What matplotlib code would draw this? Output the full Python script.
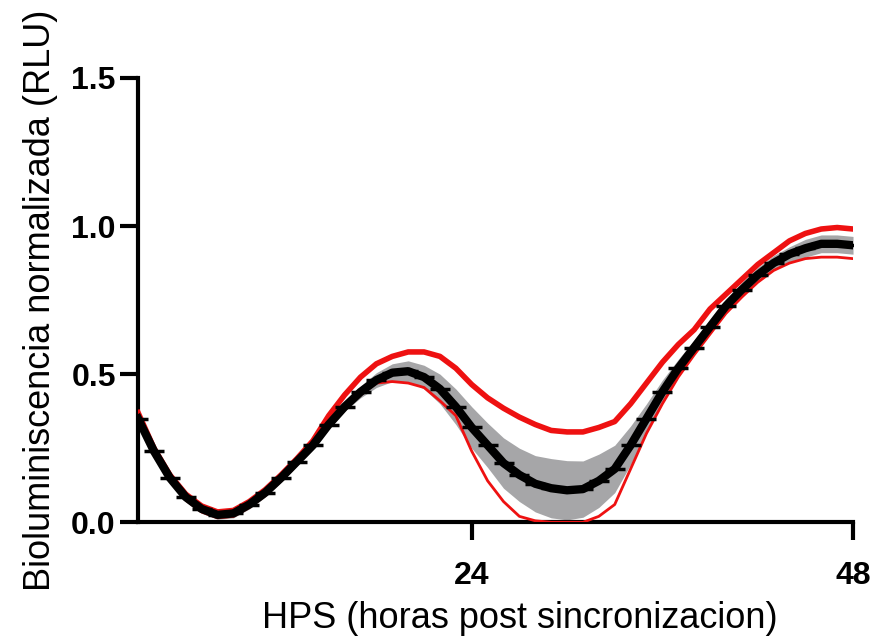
import matplotlib
matplotlib.use('Agg')
import matplotlib.pyplot as plt

# hours post synchronization
hours = [3, 4, 5, 6, 7, 8, 9, 10, 11, 12, 13, 14, 15, 16, 17, 18, 19, 20, 21, 22, 23, 24, 25,
         26, 27, 28, 29, 30, 31, 32, 33, 34, 35, 36, 37, 38, 39, 40, 41, 42, 43, 44, 45, 46, 47, 48]

# black series mean and sd (grey band)
black_mean = [0.35, 0.24, 0.15, 0.085, 0.045, 0.025, 0.03, 0.06, 0.10, 0.15, 0.205, 0.26, 0.33,
              0.39, 0.44, 0.48, 0.505, 0.51, 0.49, 0.45, 0.39, 0.32, 0.26, 0.20, 0.16, 0.13,
              0.115, 0.108, 0.112, 0.14, 0.18, 0.26, 0.35, 0.44, 0.52, 0.59, 0.66, 0.73, 0.785,
              0.835, 0.875, 0.905, 0.925, 0.94, 0.94, 0.935]
black_sd = [0.015, 0.015, 0.015, 0.015, 0.015, 0.015, 0.015, 0.015, 0.015, 0.015, 0.015, 0.015,
            0.015, 0.015, 0.02, 0.025, 0.03, 0.035, 0.04, 0.05, 0.06, 0.07, 0.075, 0.085, 0.09,
            0.095, 0.10, 0.10, 0.095, 0.09, 0.08, 0.065, 0.05, 0.04, 0.03, 0.025, 0.025, 0.025,
            0.025, 0.025, 0.025, 0.025, 0.03, 0.03, 0.03, 0.03]

# red series upper / lower limits
red_upper = [0.37, 0.25, 0.16, 0.095, 0.055, 0.035, 0.04, 0.07, 0.11, 0.16, 0.215, 0.275, 0.36,
             0.43, 0.49, 0.535, 0.56, 0.575, 0.575, 0.56, 0.52, 0.465, 0.42, 0.385, 0.355, 0.33,
             0.31, 0.305, 0.305, 0.32, 0.34, 0.40, 0.47, 0.54, 0.60, 0.65, 0.72, 0.77, 0.82,
             0.87, 0.91, 0.95, 0.975, 0.99, 0.995, 0.99]
red_lower = [0.34, 0.23, 0.14, 0.075, 0.035, 0.015, 0.02, 0.05, 0.09, 0.14, 0.195, 0.25, 0.32,
             0.38, 0.43, 0.47, 0.475, 0.47, 0.455, 0.41, 0.36, 0.24, 0.14, 0.07, 0.02, 0.005,
             0.0, 0.0, 0.0, 0.02, 0.06, 0.18, 0.30, 0.40, 0.49, 0.565, 0.635, 0.705, 0.76,
             0.81, 0.85, 0.875, 0.89, 0.895, 0.895, 0.89]

plt.rcParams['font.family'] = ['Liberation Sans', 'DejaVu Sans']

fig = plt.figure(figsize=(8.74, 6.44), dpi=100)
ax = fig.add_axes([0.158, 0.189, 0.818, 0.690])

lo = [m - s for m, s in zip(black_mean, black_sd)]
hi = [m + s for m, s in zip(black_mean, black_sd)]
ax.fill_between(hours, lo, hi, color='#a6a6a8', lw=0, zorder=2)
ax.plot(hours, red_upper, color='#ee1111', lw=4, zorder=3)
ax.plot(hours, red_lower, color='#ee1111', lw=2, zorder=3)
ax.plot(hours, black_mean, color='black', lw=6, zorder=4,
        marker='_', markersize=14, markeredgewidth=2.5)

ax.set_xlim(3, 48)
ax.set_ylim(0, 1.5)
ax.set_xticks([24, 48])
ax.set_xticklabels(['24', '48'], fontsize=23, fontweight='bold')
ax.set_yticks([0.0, 0.5, 1.0, 1.5])
ax.set_yticklabels(['0.0', '0.5', '1.0', '1.5'], fontsize=23, fontweight='bold')

for s in ['top', 'right']:
    ax.spines[s].set_visible(False)
for s in ['left', 'bottom']:
    ax.spines[s].set_linewidth(3)
ax.tick_params(width=3, length=13)
ax.tick_params(axis='x', pad=15)
ax.tick_params(axis='y', pad=3)

ax.set_xlabel('HPS (horas post sincronizacion)', fontsize=26)
ax.set_ylabel('Bioluminiscencia normalizada (RLU)', fontsize=26)
ax.xaxis.set_label_coords(0.534, -0.178)
ax.yaxis.set_label_coords(-0.112, 0.5)

fig.savefig('out.png', dpi=100)
